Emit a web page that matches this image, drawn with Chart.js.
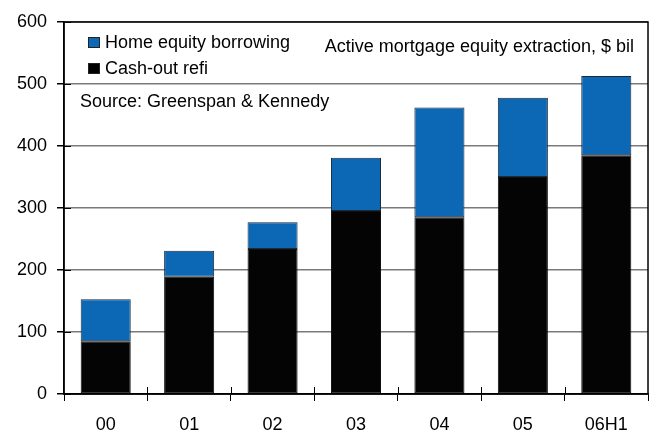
<!DOCTYPE html>
<html>
<head>
<meta charset="utf-8">
<script src="https://cdn.jsdelivr.net/npm/chart.js@4/dist/chart.umd.min.js"></script>
<style>
  html, body { margin: 0; padding: 0; background: #fff; }
  canvas { display: block; }
</style>
</head>
<body>
<canvas id="chart" width="654" height="433"></canvas>
<script>
const categories = ["00", "01", "02", "03", "04", "05", "06H1"];
const cashOutRefi = [85, 189, 234, 295, 285, 350, 385];
const homeEquity = [68, 42, 43, 86, 177, 128, 128];
const yTicks = [0, 100, 200, 300, 400, 500, 600];

const FONT = "'Liberation Sans', Arial, sans-serif";
const BLUE = "#0c68b4";

// frame, inner tick halves, legend and notes
const extras = {
  id: "extras",
  afterDraw(chart) {
    const { ctx, chartArea: a, scales } = chart;
    ctx.save();
    ctx.strokeStyle = "#000";
    ctx.lineWidth = 1.5;
    ctx.strokeRect(a.left, a.top, a.right - a.left, a.bottom - a.top);

    ctx.lineWidth = 1;
    scales.y.ticks.forEach((t, i) => {
      const y = Math.round(scales.y.getPixelForTick(i)) + 0.5;
      ctx.beginPath(); ctx.moveTo(a.left, y); ctx.lineTo(a.left + 7, y); ctx.stroke();
    });
    for (let i = 1; i < categories.length; i++) {
      const x = Math.round((scales.x.getPixelForTick(i - 1) + scales.x.getPixelForTick(i)) / 2) + 0.5;
      ctx.beginPath(); ctx.moveTo(x, a.bottom); ctx.lineTo(x, a.bottom - 7); ctx.stroke();
    }

    ctx.font = "18px " + FONT;
    ctx.textBaseline = "alphabetic";
    ctx.fillStyle = "#000";
    const items = [
      { label: chart.data.datasets[1].label, color: BLUE, y: 48 },
      { label: chart.data.datasets[0].label, color: "#000", y: 74 }
    ];
    items.forEach(it => {
      ctx.fillStyle = it.color;
      ctx.fillRect(88, it.y - 11, 12, 11);
      ctx.strokeStyle = "#222";
      ctx.strokeRect(88.5, it.y - 10.5, 11, 10);
      ctx.fillStyle = "#000";
      ctx.textAlign = "left";
      ctx.fillText(it.label, 105, it.y);
    });
    ctx.fillText("Source: Greenspan & Kennedy", 80, 107);
    ctx.textAlign = "right";
    ctx.fillText("Active mortgage equity extraction, $ bil", 634, 52);
    ctx.restore();
  }
};

new Chart(document.getElementById("chart"), {
  type: "bar",
  data: {
    labels: categories,
    datasets: [
      {
        label: "Cash-out refi",
        data: cashOutRefi,
        backgroundColor: "#040404",
        borderColor: "#111",
        borderWidth: 1,
        borderSkipped: false
      },
      {
        label: "Home equity borrowing",
        data: homeEquity,
        backgroundColor: BLUE,
        borderColor: "#1a2a3a",
        borderWidth: 1,
        borderSkipped: false
      }
    ]
  },
  options: {
    responsive: false,
    animation: false,
    datasets: { bar: { categoryPercentage: 1, barPercentage: 0.6 } },
    layout: { padding: { top: 22, right: 6, left: 0, bottom: 0 } },
    plugins: { legend: { display: false }, tooltip: { enabled: false } },
    scales: {
      x: {
        stacked: true,
        grid: { offset: true, drawOnChartArea: false, tickLength: 7, tickColor: "#000" },
        border: { color: "#000", width: 1.5 },
        ticks: { color: "#000", font: { family: FONT, size: 18 }, padding: 13, maxRotation: 0 },
        afterFit(scale) { scale.height = 39; }
      },
      y: {
        stacked: true,
        min: 0,
        max: 600,
        afterBuildTicks(scale) { scale.ticks = yTicks.map(v => ({ value: v })); },
        grid: { color: "#7a7a7a", lineWidth: 1.5, tickLength: 7, tickColor: "#000" },
        border: { color: "#000", width: 1.5 },
        ticks: { color: "#000", font: { family: FONT, size: 18 }, padding: 10 },
        afterFit(scale) { scale.width = 64; }
      }
    }
  },
  plugins: [extras]
});
</script>
</body>
</html>
